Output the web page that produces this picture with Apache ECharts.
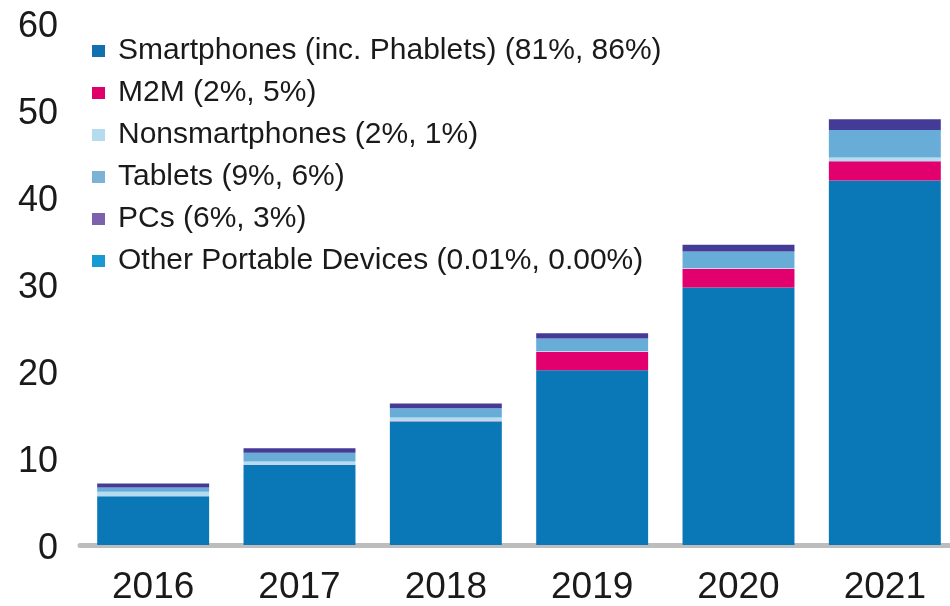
<!DOCTYPE html>
<html>
<head>
<meta charset="utf-8">
<script src="https://cdn.jsdelivr.net/npm/echarts@6/dist/echarts.min.js"></script>
<style>
  html, body { margin: 0; padding: 0; background: #ffffff; }
  #chart { width: 950px; height: 606px; }
</style>
</head>
<body>
<div id="chart"></div>
<script>
// Mobile data traffic by device type (exabytes per month)
const years = ['2016', '2017', '2018', '2019', '2020', '2021'];
const smartphones = [5.6, 9.2, 14.2, 20.1, 29.6, 41.9];
const m2m = [0.01, 0.01, 0.01, 2.1, 2.15, 2.2];
const nonsmartphones = [0.5, 0.4, 0.45, 0.1, 0.1, 0.45];
const tablets = [0.5, 1.0, 1.05, 1.45, 1.9, 3.15];
const pcs = [0.45, 0.5, 0.55, 0.6, 0.75, 1.25];
const otherPortable = [0.001, 0.001, 0.001, 0.001, 0.001, 0.001];
const yTicks = { min: 0, max: 60, interval: 10 };

const seriesDefs = [
  { name: 'Smartphones (inc. Phablets) (81%, 86%)', data: smartphones, bar: '#0a77b7', key: '#1170ad' },
  { name: 'M2M (2%, 5%)', data: m2m, bar: '#e2006e', key: '#e0006c' },
  { name: 'Nonsmartphones (2%, 1%)', data: nonsmartphones, bar: '#b5dcf0', key: '#b5dcee' },
  { name: 'Tablets (9%, 6%)', data: tablets, bar: '#68acd8', key: '#7bb2d6' },
  { name: 'PCs (6%, 3%)', data: pcs, bar: '#443b96', key: '#7c61ac' },
  { name: 'Other Portable Devices (0.01%, 0.00%)', data: otherPortable, bar: '#1899d3', key: '#1899d3' }
];

const chart = echarts.init(document.getElementById('chart'), null, { renderer: 'canvas' });

chart.setOption({
  animation: false,
  backgroundColor: '#ffffff',
  textStyle: { fontFamily: 'Liberation Sans, Arial, sans-serif' },
  grid: {
    left: 80, top: 23, width: 878, height: 522,
    containLabel: false,
    outerBoundsMode: 'none'
  },
  legend: {
    orient: 'vertical',
    left: 92,
    top: 36,
    padding: 0,
    itemWidth: 13,
    itemHeight: 12,
    itemGap: 12,
    icon: 'rect',
    selectedMode: false,
    textStyle: {
      fontSize: 30,
      lineHeight: 30,
      color: '#1a1a1a',
      padding: [0, 0, 0, 8]
    },
    data: seriesDefs.map(s => ({ name: s.name, itemStyle: { color: s.key } }))
  },
  xAxis: {
    type: 'category',
    data: years,
    offset: 2,
    axisLine: { show: true, lineStyle: { color: '#bdbdbd', width: 5 } },
    axisTick: { show: false },
    axisLabel: { fontSize: 37, color: '#1a1a1a', margin: 22 }
  },
  yAxis: {
    type: 'value',
    min: yTicks.min,
    max: yTicks.max,
    interval: yTicks.interval,
    axisLine: { show: false },
    axisTick: { show: false },
    splitLine: { show: false },
    axisLabel: {
      fontSize: 36,
      color: '#1a1a1a',
      margin: 22,
      formatter: '{v|{value}}',
      rich: { v: { fontSize: 36, color: '#1a1a1a', padding: [8, 0, 0, 0] } }
    }
  },
  series: seriesDefs.map(s => ({
    name: s.name,
    type: 'bar',
    stack: 'traffic',
    barWidth: '76.5%',
    data: s.data,
    itemStyle: { color: s.bar },
    emphasis: { disabled: true }
  }))
});
</script>
</body>
</html>
